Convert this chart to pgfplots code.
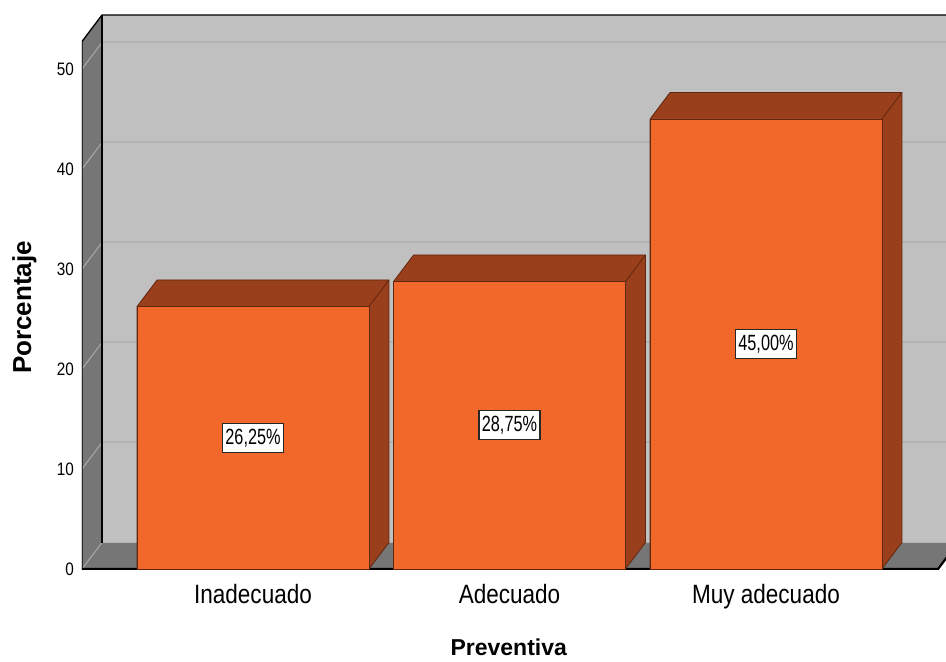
\documentclass[border=0pt]{standalone}
\usepackage{fontspec}
\setmainfont{Liberation Sans}
\newfontfamily\narrowfont[FakeStretch=0.85]{Liberation Sans}
\newfontfamily\valfont[FakeStretch=0.74]{Liberation Sans}
\usepackage{pgfplots}
\pgfplotsset{compat=1.18}

\definecolor{barfront}{RGB}{242,103,42}
\definecolor{barside}{RGB}{154,63,27}
\definecolor{baredge}{RGB}{95,38,16}
\definecolor{wall}{RGB}{192,192,192}
\definecolor{sidewall}{RGB}{118,118,118}
\definecolor{gridc}{RGB}{178,178,178}
\definecolor{sidegrid}{RGB}{170,170,170}

\begin{document}
\begin{tikzpicture}
\begin{axis}[
  name=ax,
  scale only axis,
  width=864bp, height=554bp,
  xmin=-0.6667, xmax=2.7018,
  ymin=0, ymax=55.4,
  axis line style={draw=none},
  tick style={draw=none},
  xtick={0,1,2},
  xticklabels={Inadecuado,Adecuado,Muy adecuado},
  ytick={0,10,20,30,40,50},
  /pgf/number format/assume math mode=true,
  yticklabel style={font=\narrowfont\fontsize{18bp}{20bp}\selectfont, anchor=east, inner sep=0pt, xshift=-8bp},
  xticklabel style={font=\narrowfont\fontsize{26.5bp}{28bp}\selectfont, anchor=base, inner sep=0pt, yshift=-34bp},
  xlabel={Preventiva},
  xlabel style={font=\bfseries\fontsize{23bp}{25bp}\selectfont, at={(rel axis cs:0.4939,0)}, anchor=base, inner sep=0pt, yshift=-86bp},
  ylabel={Porcentaje},
  ylabel style={font=\bfseries\fontsize{26bp}{28bp}\selectfont, at={(rel axis cs:-0.059,0.472)}, anchor=base, rotate=0, inner sep=0pt},
]
% walls and floor
\fill[wall] (axis cs:-0.5887,2.65) rectangle (axis cs:2.8,55.4);
\fill[sidewall] (axis cs:-0.6667,0) -- (axis cs:-0.6667,52.75) -- (axis cs:-0.5887,55.4) -- (axis cs:-0.5887,2.65) -- cycle;
\fill[sidewall] (axis cs:-0.6667,0) -- (axis cs:-0.5887,2.65) -- (axis cs:2.7486,2.65) -- (axis cs:2.6706,0) -- cycle;

% grid lines
\draw[gridc, line width=2bp] (axis cs:-0.5887,12.65) -- (axis cs:2.8,12.65);
\draw[gridc, line width=2bp] (axis cs:-0.5887,22.65) -- (axis cs:2.8,22.65);
\draw[gridc, line width=2bp] (axis cs:-0.5887,32.65) -- (axis cs:2.8,32.65);
\draw[gridc, line width=2bp] (axis cs:-0.5887,42.65) -- (axis cs:2.8,42.65);
\draw[gridc, line width=2bp] (axis cs:-0.5887,52.65) -- (axis cs:2.8,52.65);
\draw[gridc, line width=1bp] (axis cs:-0.5887,2.65) -- (axis cs:2.8,2.65);
\draw[sidegrid, line width=1bp] (axis cs:-0.6667,0) -- (axis cs:-0.5887,2.65);
\draw[sidegrid, line width=1bp] (axis cs:-0.6667,10) -- (axis cs:-0.5887,12.65);
\draw[sidegrid, line width=1bp] (axis cs:-0.6667,20) -- (axis cs:-0.5887,22.65);
\draw[sidegrid, line width=1bp] (axis cs:-0.6667,30) -- (axis cs:-0.5887,32.65);
\draw[sidegrid, line width=1bp] (axis cs:-0.6667,40) -- (axis cs:-0.5887,42.65);
\draw[sidegrid, line width=1bp] (axis cs:-0.6667,50) -- (axis cs:-0.5887,52.65);

% frame lines
\draw[black, line width=2bp] (axis cs:-0.5887,2.65) -- (axis cs:-0.5887,55.4);
\draw[black, line width=1.3bp] (axis cs:-0.6667,0) -- (axis cs:-0.6667,52.75) -- (axis cs:-0.5887,55.4) -- (axis cs:2.8,55.4);
\draw[black, line width=2.2bp] (axis cs:-0.6667,0) -- (axis cs:2.6706,0) -- (axis cs:2.7486,2.65);

% depth of the bars (top and side faces)
\addplot[fill=barside, draw=baredge, line width=0.8bp] coordinates {(-0.452,0) (-0.452,26.25) (-0.374,28.9) (0.530,28.9) (0.530,2.65) (0.452,0)} \closedcycle;
\addplot[fill=barside, draw=baredge, line width=0.8bp] coordinates {(0.548,0) (0.548,28.75) (0.626,31.4) (1.530,31.4) (1.530,2.65) (1.452,0)} \closedcycle;
\addplot[fill=barside, draw=baredge, line width=0.8bp] coordinates {(1.548,0) (1.548,45) (1.626,47.65) (2.530,47.65) (2.530,2.65) (2.452,0)} \closedcycle;

% front faces
\addplot[ybar, bar width=0.904, fill=barfront, draw=baredge, line width=0.8bp] coordinates {(0,26.25) (1,28.75) (2,45)};

% edges between top and side faces
\addplot[baredge, line width=0.8bp] coordinates {(0.452,26.25) (0.530,28.9)};
\addplot[baredge, line width=0.8bp] coordinates {(1.452,28.75) (1.530,31.4)};
\addplot[baredge, line width=0.8bp] coordinates {(2.452,45) (2.530,47.65)};

% value labels
\addplot[draw=none, mark=none, point meta=explicit symbolic,
  nodes near coords, nodes near coords align=center,
  every node near coord/.style={fill=white, draw=black!85, line width=1.3bp,
    font=\valfont\fontsize{22bp}{24bp}\selectfont, inner xsep=3bp, inner ysep=0pt,
    minimum height=29bp, anchor=center}]
  coordinates {(0,13.125) [26,25\%] (1,14.375) [28,75\%] (2,22.5) [45,00\%]};
\end{axis}
\pgfresetboundingbox
\path[use as bounding box] ([xshift=-82bp,yshift=-93bp]ax.south west) rectangle ++(946bp,662bp);
\end{tikzpicture}
\end{document}
